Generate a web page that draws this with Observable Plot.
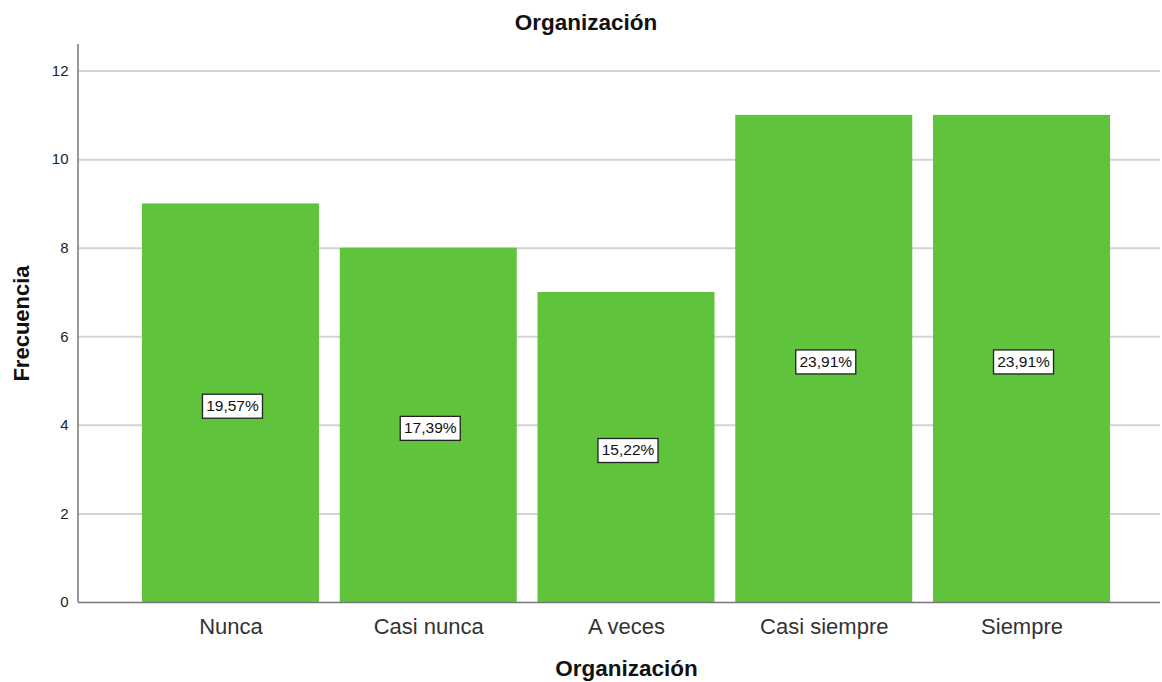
<!DOCTYPE html>
<html>
<head>
<meta charset="utf-8">
<script src="https://cdn.jsdelivr.net/npm/d3@7"></script>
<script src="https://cdn.jsdelivr.net/npm/@observablehq/plot@0.6"></script>
<style>
  body { margin: 0; background: #fff; font-family: "Liberation Sans", Arial, sans-serif; }
  #title { height: 44px; line-height: 46px; text-align: center; font-weight: bold; font-size: 22.5px; color: #111; width: 1172px; }
</style>
</head>
<body>
<div id="title">Organización</div>
<div id="chart"></div>
<script>
const categories = ["Nunca", "Casi nunca", "A veces", "Casi siempre", "Siempre"];
const frequencies = [9, 8, 7, 11, 11];
const percentLabels = ["19,57%", "17,39%", "15,22%", "23,91%", "23,91%"];
const yTicks = [0, 2, 4, 6, 8, 10, 12];

const data = categories.map((c, i) => ({cat: c, v: frequencies[i], pct: percentLabels[i]}));

const W = 1162, H = 638, ML = 78, MR = 2, MB = 80;

const leftLine = (index, scales, values, dims) => {
  const l = document.createElementNS("http://www.w3.org/2000/svg", "line");
  l.setAttribute("x1", dims.marginLeft); l.setAttribute("x2", dims.marginLeft);
  l.setAttribute("y1", dims.marginTop); l.setAttribute("y2", dims.height - dims.marginBottom);
  l.setAttribute("stroke", "#777"); l.setAttribute("stroke-width", 1.5);
  return l;
};

const chart = Plot.plot({
  width: W, height: H,
  marginLeft: ML, marginRight: MR, marginTop: 0, marginBottom: MB,
  style: {fontFamily: "Liberation Sans, Arial, sans-serif", background: "#fff"},
  x: {domain: categories, range: [131.6, 1120.4], paddingInner: 0.105, paddingOuter: 0.0525, round: false, label: null},
  y: {domain: [0, 12.6], label: null},
  marks: [
    Plot.ruleY(yTicks.filter(d => d > 0), {stroke: "#d3d3d3", strokeWidth: 2}),
    Plot.barY(data, {x: "cat", y: "v", fill: "#5fc33b"}),
    Plot.ruleY([0], {stroke: "#777", strokeWidth: 1.5}),
    leftLine,
    Plot.axisY({ticks: yTicks, tickSize: 0, tickPadding: 10, fontSize: 15, color: "#222", label: null}),
    Plot.axisX({tickSize: 0, tickPadding: 16, fontSize: 22, color: "#333", label: null}),
    Plot.text(data, {
      x: "cat", y: d => d.v / 2, text: "pct", dx: 1.5, dy: 3, fontSize: 15.5, fill: "#111",
      render(index, scales, values, dims, ctx, next) {
        const g = next(index, scales, values, dims, ctx);
        const texts = Array.from(g.querySelectorAll("text"));
        texts.forEach((t, k) => {
          const i = index[k];
          const r = document.createElementNS("http://www.w3.org/2000/svg", "rect");
          r.setAttribute("x", values.x[i] - 30);
          r.setAttribute("y", values.y[i] - 12);
          r.setAttribute("width", 60);
          r.setAttribute("height", 24);
          r.setAttribute("fill", "#fff");
          r.setAttribute("stroke", "#222");
          r.setAttribute("stroke-width", 1.3);
          t.parentNode.insertBefore(r, t);
        });
        return g;
      }
    }),
    Plot.text(["Frecuencia"], {frameAnchor: "left", dx: -57, rotate: -90, textAnchor: "middle", fontSize: 22, fontWeight: "bold", fill: "#111"}),
    Plot.text(["Organización"], {x: () => "A veces", frameAnchor: "bottom", dy: 73, fontSize: 22.5, fontWeight: "bold", fill: "#111"})
  ]
});
document.getElementById("chart").appendChild(chart);
</script>
</body>
</html>
